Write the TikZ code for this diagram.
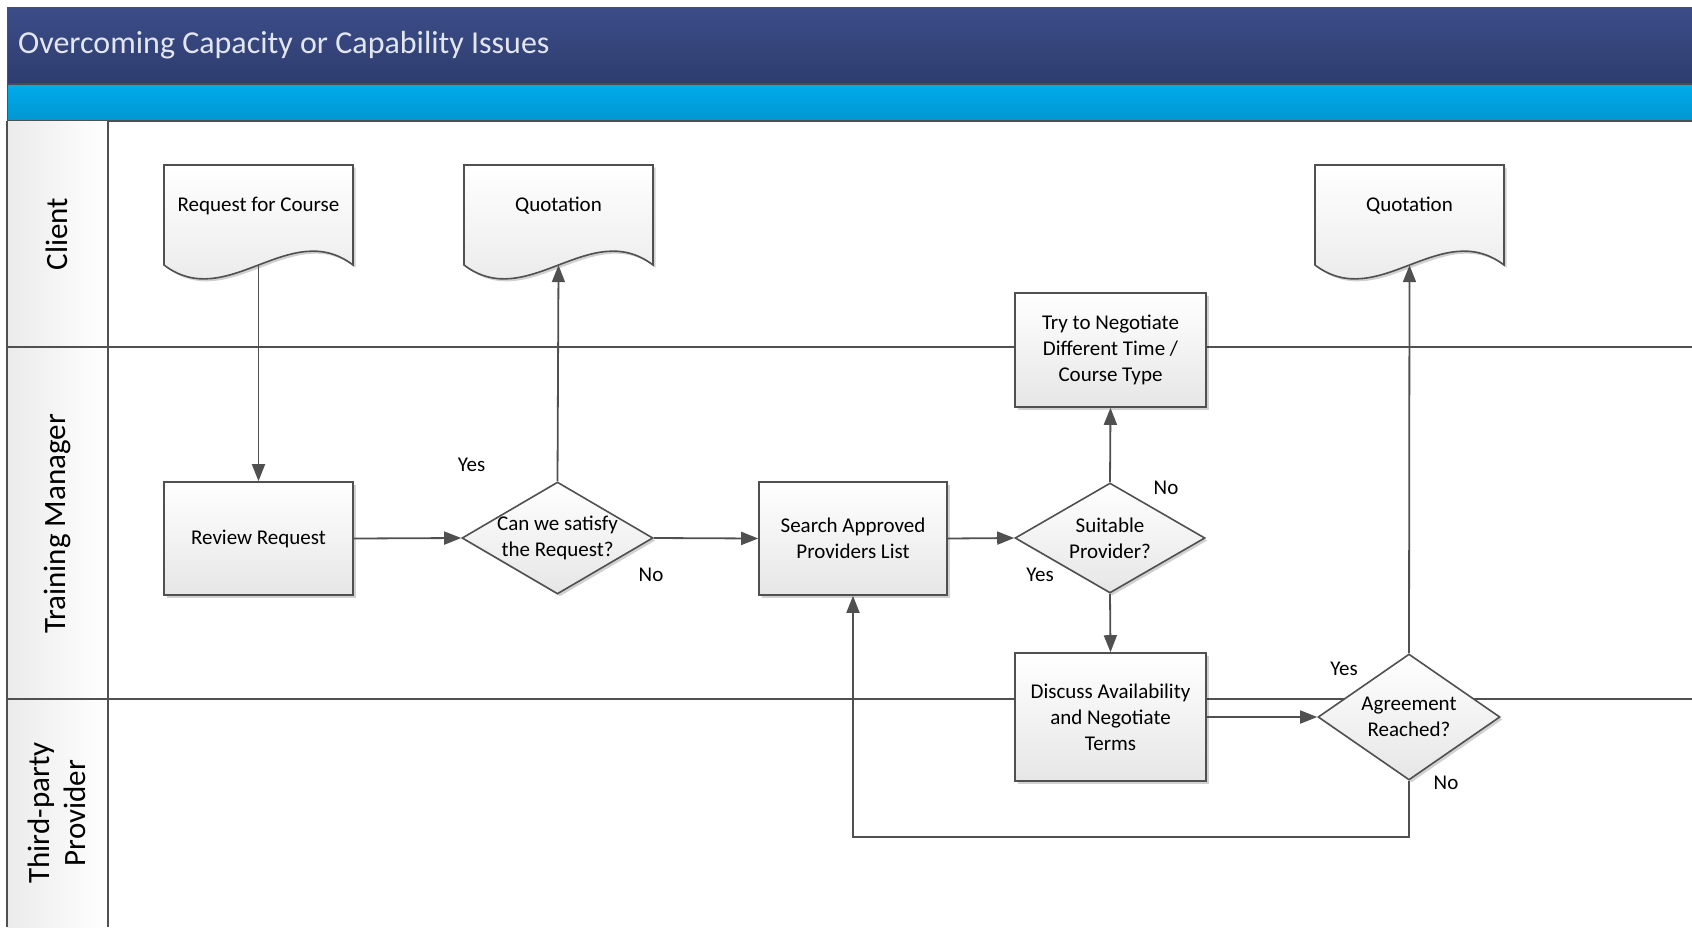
\documentclass[tikz,border=0pt]{standalone}
\usepackage{fontspec}
\setmainfont{Carlito}
\usetikzlibrary{shapes.geometric, arrows.meta, shadows}

\definecolor{linegray}{HTML}{505050}
\definecolor{titleblueA}{HTML}{3C4C88}
\definecolor{titleblueB}{HTML}{2E3D6E}
\definecolor{barblueA}{HTML}{00ACEB}
\definecolor{barblueB}{HTML}{0096D2}
\definecolor{shapebot}{HTML}{E6E6E6}
\definecolor{titletext}{HTML}{E2E6EF}
\definecolor{headgray}{HTML}{EBEBEB}

% document symbol: flat top, wavy bottom; #1 = centre x
\newcommand{\docoutline}[1]{%
  \path[docline] (#1-94.5,165) -- (#1+94.5,165) -- (#1+94.5,265)
    .. controls (#1+31.5,217) and (#1-31.5,313) .. (#1-94.5,265) -- cycle;}

\begin{document}
\begin{tikzpicture}[x=1pt,y=-1pt,
  txt/.style={font=\fontsize{21}{26}\selectfont, align=center, inner sep=0pt},
  shade/.style={top color=white, bottom color=shapebot,
    drop shadow={shadow xshift=2.5pt, shadow yshift=-2.5pt, fill=black, opacity=0.18}},
  procbox/.style={rectangle, draw=linegray, line width=1.6pt, shade, txt},
  decision/.style={diamond, draw=linegray, line width=1.6pt, shade, inner sep=0pt},
  docline/.style={draw=linegray, line width=1.6pt, shade},
  docbox/.style={rectangle, minimum width=189pt, minimum height=100pt, inner sep=0pt},
  doclabel/.style={txt, yshift=9pt},
  answer/.style={txt},
  lanelabel/.style={font=\fontsize{31}{36}\selectfont, align=center, inner sep=0pt, rotate=90},
  laneline/.style={draw=linegray, line width=1.5pt},
  flow/.style={draw=linegray, line width=1.8pt, -{Triangle[length=17pt,width=13pt]}}]

\useasboundingbox (0,0) rectangle (1692,927);
\fill[white] (0,0) rectangle (1692,927);

% title bars
\path[top color=titleblueA, bottom color=titleblueB] (7,7) rectangle (1692,84);
\path[top color=barblueA, bottom color=barblueB] (7,84) rectangle (1692,121);
\draw[draw=linegray, line width=1pt] (1692,7) -- (7,7) -- (7,121);
\draw[draw=black!70, line width=1.2pt] (7,84) -- (1692,84);
\draw[draw=linegray, line width=1.5pt] (7,121) -- (1692,121);
\node[anchor=west, inner sep=0pt, text=titletext, font=\fontsize{32}{38}\selectfont] (title) at (18,45.5)
  {Overcoming Capacity or Capability Issues};

% swimlane headers and dividers
\path[left color=headgray, right color=white] (7,121) rectangle (108,927);
\draw[laneline] (7,121) -- (7,927);
\draw[laneline] (108,121) -- (108,927);
\draw[laneline] (7,347) -- (1692,347);
\draw[laneline] (7,699) -- (1692,699);
\node[lanelabel] (laneA) at (57,234) {Client};
\node[lanelabel] (laneB) at (57,524) {Training Manager};
\node[lanelabel] (laneC) at (57,813) {Third-party\\Provider};

% documents
\docoutline{258.5}
\node[docbox, label={[doclabel]center:Request for Course}] (req) at (258.5,215) {};
\docoutline{558.5}
\node[docbox, label={[doclabel]center:Quotation}] (quoteA) at (558.5,215) {};
\docoutline{1409.5}
\node[docbox, label={[doclabel]center:Quotation}] (quoteB) at (1409.5,215) {};

% process boxes
\node[procbox, minimum width=189pt, minimum height=113pt] (review) at (258.5,538.5) {Review Request};
\node[procbox, minimum width=188pt, minimum height=113pt] (search) at (853,538.5) {Search Approved\\Providers List};
\node[procbox, minimum width=191pt, minimum height=114pt] (retry) at (1110.5,350) {Try to Negotiate\\Different Time /\\Course Type};
\node[procbox, minimum width=191pt, minimum height=128pt] (discuss) at (1110.5,717) {Discuss Availability\\and Negotiate\\Terms};

% decisions
\node[decision, minimum width=191pt, minimum height=112pt,
  label={[txt]center:Can we satisfy\\the Request?}] (satisfy) at (557.5,538) {};
\node[decision, minimum width=190pt, minimum height=110pt,
  label={[txt]center:Suitable\\Provider?}] (suitable) at (1110,538) {};
\node[decision, minimum width=182pt, minimum height=126pt,
  label={[txt]center:Agreement\\Reached?}] (agree) at (1409,717) {};

% connectors
\draw[flow] (req.south) -- (review.north);
\draw[flow] (review.east) -- (satisfy.west);
\draw[flow] (satisfy.north) -- (quoteA.south);
\draw[flow] (satisfy.east) -- (search.west);
\draw[flow] (search.east) -- (suitable.west);
\draw[flow] (suitable.north) -- (retry.south);
\draw[flow] (suitable.south) -- (discuss.north);
\draw[flow] (discuss.east) -- (agree.west);
\draw[flow] (agree.north) -- (quoteB.south);
\coordinate (loopback) at (1409,837);
\draw[flow] (agree.south) -- (loopback) -| (search.south);

% branch labels
\node[answer] (yesA) at (471.5,465) {Yes};
\node[answer] (noA) at (651,575) {No};
\node[answer] (noB) at (1166,488) {No};
\node[answer] (yesB) at (1040,575) {Yes};
\node[answer] (yesC) at (1344,669) {Yes};
\node[answer] (noC) at (1446,783) {No};
\end{tikzpicture}
\end{document}
